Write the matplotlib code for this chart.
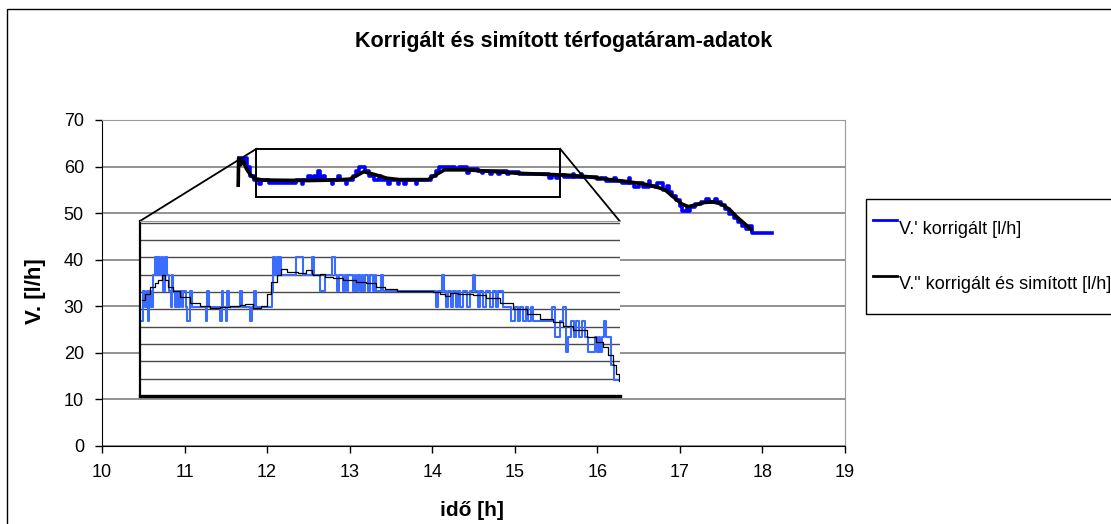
import matplotlib
matplotlib.use("Agg")
import matplotlib.pyplot as plt
from matplotlib.patches import Rectangle

plt.rcParams['font.family'] = ['Liberation Sans', 'DejaVu Sans']

# main chart: measured (blue, stepped) and smoothed (black) flow rate
blue_t = [11.66, 11.70, 11.73, 11.76, 11.79, 11.84, 11.90, 11.93, 12.02, 12.35, 12.42, 12.44,
          12.50, 12.53, 12.57, 12.60, 12.62, 12.64, 12.68, 12.70, 12.78, 12.80, 12.86, 12.88,
          12.95, 12.97, 13.04, 13.08, 13.11, 13.19, 13.24, 13.30, 13.36, 13.38, 13.47, 13.49,
          13.58, 13.60, 13.66, 13.68, 13.80, 13.82, 13.98, 14.05, 14.08, 14.20, 14.23, 14.28,
          14.33, 14.42, 14.45, 14.55, 14.60, 14.62, 14.70, 14.72, 14.80, 14.82, 14.90, 14.93,
          15.05, 15.42, 15.45, 15.50, 15.52, 15.60, 15.70, 15.72, 15.80, 15.82, 15.90, 16.00,
          16.05, 16.10, 16.20, 16.22, 16.30, 16.38, 16.40, 16.45, 16.50, 16.55, 16.62, 16.64,
          16.70, 16.72, 16.80, 16.84, 16.87, 16.90, 16.95, 17.00, 17.03, 17.08, 17.10, 17.12,
          17.18, 17.25, 17.32, 17.35, 17.42, 17.45, 17.50, 17.55, 17.60, 17.65, 17.70, 17.75,
          17.80, 17.84, 17.87, 18.12]
blue_v = [61.9, 60.9, 61.9, 60.0, 58.0, 57.1, 56.2, 57.1, 56.4, 57.1, 56.2, 57.1,
          58.0, 57.1, 58.0, 57.1, 59.0, 57.1, 58.0, 57.1, 56.2, 57.1, 58.0, 57.1,
          56.2, 57.1, 58.0, 59.0, 59.9, 59.0, 58.0, 57.1, 58.0, 57.1, 56.2, 57.1,
          56.2, 57.1, 56.2, 57.1, 56.2, 57.1, 58.0, 59.0, 60.0, 59.4, 60.0, 59.4,
          60.0, 58.6, 59.4, 59.0, 58.6, 59.0, 58.4, 59.0, 58.4, 59.0, 58.4, 58.9,
          58.4, 57.6, 58.2, 57.6, 58.2, 57.8, 58.3, 57.8, 58.3, 57.8, 57.8, 57.3,
          57.6, 56.9, 57.5, 56.9, 56.5, 57.5, 56.5, 55.6, 56.5, 55.6, 57.0, 55.9,
          55.6, 56.4, 55.0, 55.9, 54.5, 53.7, 52.8, 51.6, 50.5, 51.4, 50.5, 51.4,
          52.0, 52.3, 53.0, 52.3, 53.0, 52.3, 51.8, 50.8, 49.8, 49.0, 48.0, 47.2,
          46.6, 47.2, 45.8, 45.8]

black_t = [11.65, 11.655, 11.68, 11.71, 11.75, 11.80, 11.85, 11.95, 12.50, 12.80, 13.00, 13.10,
           13.17, 13.30, 13.45, 13.60, 13.95, 14.05, 14.15, 14.40, 14.70, 15.00, 15.40, 15.60,
           15.90, 16.10, 16.35, 16.55, 16.72, 16.82, 16.92, 17.02, 17.10, 17.20, 17.30, 17.40,
           17.50, 17.60, 17.70, 17.80, 17.86]
black_v = [56.0, 61.8, 60.4, 61.2, 59.5, 58.2, 57.4, 57.1, 57.0, 57.1, 57.3, 58.2,
           58.9, 58.3, 57.5, 57.2, 57.2, 58.3, 59.3, 59.3, 59.0, 58.6, 58.3, 58.2,
           57.8, 57.3, 56.8, 56.3, 55.6, 55.0, 53.5, 52.0, 51.4, 51.8, 52.3, 52.4,
           52.0, 50.8, 49.0, 47.5, 46.5]

# inset (zoomed detail): x in percent of the inset width, y in grid units
ins_blue_x = [0.35, 0.7, 1.04, 1.39, 1.74, 1.94, 2.22, 2.78, 3.13, 3.47, 3.82, 4.17, 4.51, 4.86,
              5.21, 5.56, 6.11, 6.39, 6.67, 6.94, 7.29, 7.64, 7.99, 8.33, 8.68, 9.03, 9.58, 9.86,
              10.42, 10.76, 13.75, 14.03, 14.44, 16.67, 17.01, 17.36, 17.92, 18.19, 18.61, 20.83,
              21.18, 22.92, 23.26, 23.75, 24.17, 27.43, 27.78, 28.13, 28.47, 28.82, 29.03, 29.31,
              32.5, 34.0, 35.8, 36.2, 37.5, 38.5, 40.0, 40.6, 41.0, 41.5, 42.4, 42.8, 43.1, 43.4,
              44.5, 44.8, 45.1, 45.5, 45.8, 46.2, 46.5, 46.9, 47.6, 47.9, 48.6, 49.0, 49.3, 50.3,
              50.7, 61.8, 62.2, 62.9, 63.4, 63.8, 64.2, 64.9, 65.3, 65.9, 66.3, 66.7, 67.4, 68.1,
              68.8, 69.4, 69.8, 70.5, 70.8, 71.5, 72.2, 72.9, 73.5, 74.2, 74.7, 75.7, 77.4, 78.1,
              78.8, 79.3, 79.9, 80.4, 80.9, 81.5, 82.0, 85.8, 86.5, 87.5, 88.2, 88.9, 89.3, 89.9,
              90.4, 91.0, 91.6, 92.2, 92.8, 93.4, 94.8, 95.3, 95.6, 96.0, 96.3, 96.8, 97.2, 98.3,
              98.75, 99.65]
ins_blue_y = [4.3, 6.05, 5.15, 6.05, 4.3, 6.05, 5.15, 7.0, 8.0, 7.0, 8.0, 7.0, 8.0, 6.05,
              8.0, 7.0, 6.05, 5.15, 7.0, 6.05, 5.15, 6.05, 5.15, 6.05, 5.15, 6.05, 5.15, 4.3,
              6.05, 5.15, 4.3, 6.05, 5.15, 4.3, 6.05, 5.15, 4.3, 6.05, 5.15, 6.05,
              5.15, 4.3, 5.15, 6.05, 5.15, 6.05, 8.0, 7.0, 8.0, 7.0, 8.0, 7.0,
              8.0, 7.0, 8.0, 7.0, 6.05, 7.0, 8.0, 7.0, 6.05, 7.0, 6.05, 7.0, 6.05, 7.0,
              6.05, 7.0, 6.05, 7.0, 6.05, 7.0, 6.05, 7.0, 6.05, 7.0, 6.05, 7.0, 6.05, 7.0,
              6.05, 5.15, 6.05, 7.0, 6.05, 5.15, 6.05, 5.15, 6.05, 5.15, 6.05, 5.15, 6.05, 5.15,
              6.05, 7.0, 6.05, 5.15, 6.05, 5.15, 6.05, 5.15, 6.05, 5.15, 6.05, 5.15, 4.3, 5.15,
              4.3, 5.15, 4.3, 5.15, 4.3, 5.15, 4.3, 5.15, 3.41, 4.3, 5.15, 2.54, 3.41, 4.3,
              3.41, 4.3, 3.41, 4.3, 3.41, 2.54, 3.41, 2.54, 3.41, 2.54, 3.41, 4.3, 3.41, 1.77,
              0.95, 0.95]

ins_black_x = [0.35, 1.0, 2.1, 3.1, 3.8, 4.5, 5.2, 5.9, 6.9, 8.3, 10.4, 12.5, 14.6, 16.7,
               18.75, 20.8, 22.0, 23.6, 25.3, 26.4, 27.4, 28.5, 29.5, 30.6, 33.0, 34.7, 35.8,
               36.1, 37.5, 38.5, 40.3, 42.4, 45.1, 47.2, 49.3, 51.0, 53.5, 59.7, 61.1, 62.5,
               63.5, 64.6, 66.3, 69.4, 72.2, 75.0, 77.8, 80.6, 83.3, 86.1, 88.2, 90.3, 93.1,
               95.1, 96.5, 97.6, 98.6, 99.3, 99.9]
ins_black_y = [5.53, 5.9, 6.3, 6.5, 6.7, 6.98, 6.7, 6.3, 6.05, 5.72, 5.34, 5.2, 5.1, 5.15,
               5.2, 5.25, 5.3, 5.1, 5.2, 5.9, 6.6, 7.0, 7.36, 7.17, 7.1, 7.3, 7.07,
               6.98, 7.07, 6.88, 6.79, 6.69, 6.59, 6.5, 6.3, 6.15, 6.07, 6.07, 6.01, 5.9,
               5.76, 5.95, 5.9, 5.82, 5.63, 5.38, 5.05, 4.76, 4.47, 4.28, 4.03, 3.8, 3.41,
               3.12, 2.83, 2.35, 1.77, 1.29, 0.87]

# zoom frame in the main chart and where the inset sits (data coords)
zoom_box = (11.87, 53.5, 15.55, 63.8)
inset_box = (10.46, 10.74, 16.27, 48.3)

fig = plt.figure(figsize=(11.11, 5.24), dpi=100)
ax = fig.add_axes([0.0918, 0.1489, 0.6688, 0.6221])

ax.set_xlim(10, 19)
ax.set_ylim(0, 70)
ax.set_xticks(range(10, 20))
ax.set_yticks(range(0, 71, 10))
ax.yaxis.grid(True, color='#7f7f7f', lw=1.2)
ax.set_axisbelow(True)
ax.tick_params(direction='out', length=5, width=1, labelsize=13, pad=8)
ax.tick_params(axis='y', pad=8)
for s in ['top', 'right']:
    ax.spines[s].set_color('#9a9a9a')
for s in ['left', 'bottom']:
    ax.spines[s].set_color('black')

l1, = ax.plot(blue_t, blue_v, color='#0000ff', lw=2.6, drawstyle='steps-post', zorder=3,
              label="V.' korrigált [l/h]")
l2, = ax.plot(black_t, black_v, color='black', lw=2.6, zorder=4,
              label='V." korrigált és simított [l/h]')

x0, y0, x1, y1 = zoom_box
ax.add_patch(Rectangle((x0, y0), x1 - x0, y1 - y0, fill=False, ec='black', lw=1.4, zorder=5))
ix0, iy0, ix1, iy1 = inset_box
ax.plot([x0, ix0], [y1, iy1], color='black', lw=1.3, zorder=5)
ax.plot([x1, ix1], [y1, iy1], color='black', lw=1.3, zorder=5)

ins = ax.inset_axes([ix0, iy0, ix1 - ix0, iy1 - iy0], transform=ax.transData, zorder=6)
ins.set_facecolor('white')
ins.set_xlim(0, 100)
ins.set_ylim(0, 10.1)
ins.set_xticks([])
ins.set_yticks(range(1, 11))
ins.yaxis.grid(True, color='#4a4a4a', lw=1.0)
ins.tick_params(left=False, labelleft=False)
ins.set_axisbelow(True)
ins.spines['right'].set_visible(False)
ins.spines['top'].set_color('#9a9a9a')
ins.spines['left'].set_linewidth(1.6)
ins.spines['bottom'].set_linewidth(2.4)
ins.plot(ins_blue_x, ins_blue_y, color='#3a6cff', lw=1.5, drawstyle='steps-post')
ins.plot(ins_black_x, ins_black_y, color='black', lw=0.9, drawstyle='steps-post')

fig.text(564 / 1111, 1 - 41 / 524, 'Korrigált és simított térfogatáram-adatok',
         ha='center', va='center', fontsize=15.5, fontweight='bold')
fig.text(36 / 1111, 1 - 291 / 524, 'V. [l/h]', rotation=90, ha='center', va='center',
         fontsize=16, fontweight='bold')
fig.text(472 / 1111, 1 - 510 / 524, 'idő [h]', ha='center', va='center',
         fontsize=15, fontweight='bold')

leg = fig.legend(handles=[l1, l2], loc='upper left', bbox_to_anchor=(866 / 1111, 1 - 199 / 524),
                 borderaxespad=0, fontsize=13, frameon=True, fancybox=False, framealpha=1,
                 edgecolor='black', borderpad=0.39, labelspacing=0.6, handlelength=1.33,
                 handleheight=3.45, handletextpad=0.1)
leg.get_frame().set_linewidth(1.0)
for ln in leg.get_lines():
    ln.set_linewidth(2.0)

fig.patches.append(Rectangle((7 / 1111, -0.1), 1.2, 1.1 - 9 / 524, transform=fig.transFigure,
                             fill=False, ec='black', lw=1.0, figure=fig))

fig.savefig('out.png', dpi=100)
